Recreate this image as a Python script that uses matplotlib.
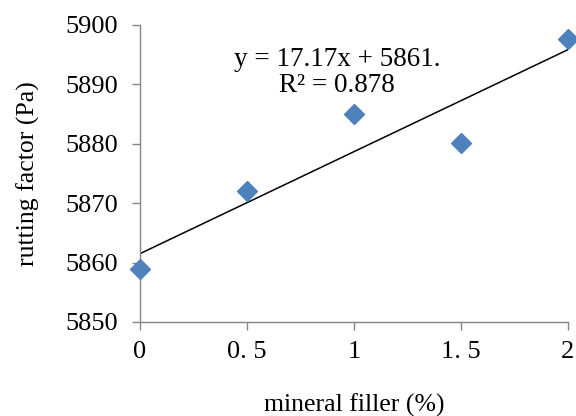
import matplotlib.pyplot as plt

# mineral filler content vs rutting factor
filler = [0, 0.5, 1, 1.5, 2]
rutting = [5859, 5872, 5885, 5880.2, 5897.6]
x_ticks = [0, 0.5, 1, 1.5, 2]
x_tick_labels = ['0', '0. 5', '1', '1. 5', '2']
y_ticks = [5850, 5860, 5870, 5880, 5890, 5900]

# linear trend line
slope = 17.17
intercept = 5861.5
r2 = 0.878

plt.rcParams['font.family'] = ['Liberation Serif', 'DejaVu Serif']

fig = plt.figure(figsize=(5.76, 4.16), dpi=100)
ax = fig.add_axes([0.243, 0.226, 0.743, 0.714])

ax.plot([filler[0], filler[-1]],
        [intercept + slope * filler[0], intercept + slope * filler[-1]],
        color='black', lw=1.1, zorder=2)
ax.plot(filler, rutting, ls='none', marker='D', ms=10.5,
        color='#4F81BD', clip_on=False, zorder=3)

ax.text(0.92, 5892.0, 'y = 17.17x + 5861.\nR² = 0.878', ha='center',
        va='center', fontsize=19.5, linespacing=1.05)

ax.set_xlim(0, 2)
ax.set_ylim(5850, 5900)
ax.set_xticks(x_ticks)
ax.set_xticklabels(x_tick_labels)
ax.set_yticks(y_ticks)

for side in ['top', 'right']:
    ax.spines[side].set_visible(False)
for side in ['left', 'bottom']:
    ax.spines[side].set_color('#868686')
    ax.spines[side].set_linewidth(1.0)
ax.tick_params(axis='both', direction='out', length=6, width=1.0,
               color='#868686', labelsize=19)
ax.tick_params(axis='x', pad=8)
ax.tick_params(axis='y', pad=10)

ax.set_xlabel('mineral filler (%)', fontsize=18.5, labelpad=22)
ax.set_ylabel('rutting factor (Pa)', fontsize=18.5, labelpad=18)

fig.savefig('out.png', dpi=100)
